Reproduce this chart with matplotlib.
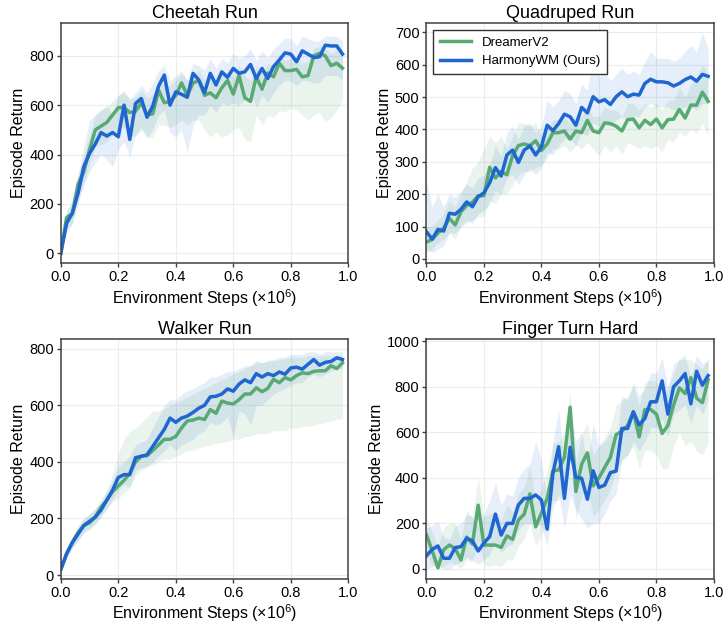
import matplotlib
matplotlib.use('Agg')
import matplotlib.pyplot as plt
import numpy as np

matplotlib.rcParams['font.family'] = ['Liberation Sans', 'DejaVu Sans']
matplotlib.rcParams['mathtext.fontset'] = 'custom'
matplotlib.rcParams['mathtext.rm'] = 'Liberation Sans'
matplotlib.rcParams['mathtext.it'] = 'Liberation Sans:italic'
matplotlib.rcParams['xtick.labelsize'] = 10.5
matplotlib.rcParams['ytick.labelsize'] = 10.5

steps = [i * 0.02 for i in range(50)]

# Cheetah Run
cb_mean = [0, 121, 162, 243, 351, 405, 443, 489, 475, 489, 472, 600, 461, 607, 627, 551, 597, 677, 722, 600,
           654, 644, 632, 729, 702, 650, 729, 682, 735, 713, 749, 729, 735, 765, 708, 749, 708, 756, 783, 812,
           807, 776, 820, 807, 793, 796, 843, 840, 840, 807]
cb_lo = [0, 80, 120, 200, 280, 330, 370, 400, 380, 350, 420, 450, 390, 480, 510, 470, 500, 560, 580, 490,
         470, 500, 410, 520, 560, 560, 600, 570, 610, 600, 610, 600, 620, 650, 590, 640, 610, 650, 680, 700,
         700, 680, 700, 700, 690, 690, 720, 720, 720, 700]
cb_hi = [0, 160, 220, 320, 430, 540, 560, 580, 600, 560, 640, 660, 620, 650, 680, 650, 690, 740, 760, 700,
         720, 740, 700, 770, 760, 740, 790, 750, 790, 770, 810, 790, 800, 830, 780, 820, 790, 830, 850, 870,
         870, 840, 880, 870, 860, 860, 880, 880, 880, 860]
cg_mean = [0, 145, 160, 280, 330, 420, 500, 515, 530, 560, 590, 590, 570, 575, 610, 560, 565, 660, 610, 615,
           640, 690, 640, 690, 700, 640, 650, 630, 670, 700, 645, 720, 630, 615, 715, 665, 730, 715, 770, 740,
           740, 745, 715, 720, 800, 810, 800, 760, 770, 750]
cg_lo = [0, 100, 120, 220, 280, 360, 430, 440, 450, 480, 500, 510, 480, 470, 500, 470, 470, 520, 520, 510,
         520, 540, 520, 540, 540, 500, 470, 490, 470, 480, 500, 510, 460, 450, 560, 520, 560, 550, 580, 570,
         590, 580, 560, 540, 560, 570, 530, 550, 580, 620]
cg_hi = [0, 180, 200, 320, 390, 480, 560, 580, 590, 620, 640, 650, 630, 630, 660, 630, 640, 700, 680, 680,
         700, 730, 700, 720, 740, 700, 720, 700, 720, 740, 710, 760, 720, 700, 760, 730, 770, 760, 800, 780,
         790, 790, 770, 780, 830, 840, 830, 810, 820, 810]

# Quadruped Run
qb_mean = [84, 61, 91, 86, 141, 138, 153, 176, 161, 192, 204, 235, 282, 256, 321, 336, 298, 336, 349, 321,
           346, 413, 396, 418, 447, 439, 413, 468, 451, 501, 485, 492, 477, 501, 516, 501, 509, 506, 542, 555,
           547, 547, 544, 534, 542, 554, 562, 549, 570, 564]
qb_lo = [30, 20, 30, 40, 80, 80, 100, 120, 110, 140, 150, 170, 210, 200, 250, 260, 230, 260, 280, 260,
         280, 330, 320, 350, 370, 370, 350, 390, 380, 420, 410, 420, 410, 430, 440, 430, 440, 440, 470, 480,
         470, 470, 470, 460, 460, 470, 470, 460, 480, 480]
qb_hi = [240, 160, 200, 160, 200, 190, 210, 230, 220, 250, 260, 290, 350, 320, 390, 410, 370, 410, 420, 390,
         410, 490, 470, 490, 520, 510, 480, 540, 520, 640, 560, 580, 550, 570, 590, 570, 580, 570, 610, 640,
         620, 620, 620, 610, 620, 640, 660, 640, 700, 650]
qg_mean = [52, 60, 80, 95, 125, 105, 145, 165, 175, 195, 195, 283, 250, 270, 260, 320, 350, 355, 350, 365,
           335, 355, 390, 390, 395, 370, 395, 390, 428, 395, 390, 420, 418, 410, 395, 430, 432, 405, 428, 415,
           432, 405, 430, 432, 462, 435, 475, 475, 515, 487]
qg_lo = [20, 30, 50, 60, 80, 60, 100, 110, 120, 130, 130, 180, 170, 200, 200, 230, 260, 270, 270, 280,
         290, 310, 340, 340, 350, 330, 350, 340, 360, 340, 320, 350, 330, 350, 320, 360, 350, 340, 350, 340,
         350, 330, 370, 360, 390, 380, 400, 390, 420, 380]
qg_hi = [100, 100, 120, 140, 180, 160, 200, 240, 280, 300, 340, 380, 360, 380, 340, 380, 420, 420, 410, 420,
         380, 400, 430, 430, 440, 420, 440, 440, 470, 440, 440, 470, 460, 460, 440, 480, 480, 460, 480, 470,
         480, 460, 490, 490, 530, 500, 540, 560, 600, 570]

# Walker Run
wb_mean = [20, 75, 115, 145, 175, 190, 205, 230, 265, 300, 345, 355, 355, 415, 420, 425, 455, 485, 515, 555,
           540, 555, 562, 575, 590, 600, 630, 632, 640, 658, 650, 675, 690, 680, 712, 700, 712, 705, 718, 710,
           732, 735, 728, 745, 762, 742, 752, 755, 768, 762]
wb_lo = [10, 60, 95, 120, 150, 165, 180, 205, 235, 265, 300, 320, 310, 370, 380, 385, 400, 420, 440, 460,
         440, 460, 470, 480, 500, 510, 540, 530, 540, 560, 490, 580, 570, 530, 600, 600, 620, 640, 650, 660,
         670, 680, 680, 700, 710, 700, 710, 720, 730, 730]
wb_hi = [30, 90, 135, 170, 200, 215, 235, 255, 295, 335, 385, 400, 420, 460, 470, 480, 520, 560, 600, 620,
         620, 640, 650, 660, 670, 680, 700, 700, 710, 720, 720, 730, 740, 740, 760, 750, 760, 760, 770, 770,
         780, 780, 780, 790, 790, 780, 790, 790, 790, 790]
wg_mean = [20, 75, 115, 150, 175, 185, 205, 240, 265, 295, 315, 335, 360, 400, 420, 422, 440, 460, 480, 480,
           490, 520, 545, 548, 555, 550, 585, 572, 615, 608, 605, 620, 640, 640, 662, 648, 660, 692, 680, 698,
           690, 705, 715, 712, 720, 722, 722, 740, 730, 750]
wg_lo = [10, 60, 95, 125, 150, 160, 180, 210, 235, 260, 270, 290, 310, 350, 370, 380, 390, 400, 410, 410,
         420, 430, 440, 440, 450, 455, 460, 465, 470, 470, 480, 480, 490, 490, 500, 500, 500, 510, 510, 510,
         520, 520, 525, 525, 530, 535, 540, 545, 550, 555]
wg_hi = [30, 90, 135, 175, 200, 215, 235, 270, 300, 360, 430, 480, 510, 520, 540, 560, 580, 580, 590, 600,
         610, 620, 630, 640, 650, 660, 670, 680, 690, 700, 710, 720, 730, 740, 750, 750, 755, 760, 760, 765,
         770, 770, 770, 775, 775, 775, 775, 775, 775, 775]

# Finger Turn Hard
fb_mean = [58, 86, 101, 47, 47, 94, 98, 135, 123, 79, 114, 142, 241, 149, 200, 200, 281, 310, 310, 325,
           303, 175, 420, 537, 310, 534, 402, 398, 306, 431, 358, 368, 423, 430, 617, 617, 690, 632, 661, 734,
           734, 826, 680, 800, 826, 858, 725, 868, 807, 849]
fb_lo = [0, 10, 20, 0, 0, 20, 30, 50, 40, 20, 40, 60, 120, 70, 100, 110, 170, 200, 200, 200,
         190, 100, 270, 330, 180, 320, 260, 220, 180, 200, 200, 240, 300, 330, 480, 500, 560, 520, 560, 620,
         620, 660, 580, 680, 700, 720, 640, 720, 680, 740]
fb_hi = [180, 190, 210, 140, 130, 190, 200, 240, 230, 190, 240, 300, 380, 280, 330, 320, 400, 440, 460, 560,
         480, 300, 560, 700, 460, 700, 560, 600, 460, 640, 540, 560, 600, 560, 760, 740, 820, 760, 790, 860,
         860, 930, 800, 900, 920, 940, 840, 940, 900, 920]
fg_mean = [150, 80, 5, 85, 105, 90, 40, 140, 110, 280, 105, 105, 105, 95, 145, 130, 215, 240, 330, 185,
           245, 310, 430, 435, 490, 710, 340, 460, 510, 365, 400, 445, 490, 590, 605, 630, 690, 580, 700, 700,
           680, 595, 630, 720, 795, 770, 840, 750, 730, 830]
fg_lo = [60, 20, 0, 10, 30, 20, 0, 40, 30, 120, 20, 10, 20, 10, 40, 40, 100, 130, 200, 100,
         150, 200, 300, 300, 360, 520, 220, 320, 360, 230, 260, 300, 350, 440, 470, 500, 540, 440, 520, 520,
         500, 440, 440, 540, 600, 540, 560, 520, 500, 550]
fg_hi = [230, 160, 100, 180, 200, 200, 130, 260, 230, 400, 230, 240, 250, 210, 280, 250, 330, 360, 450, 300,
         350, 430, 550, 560, 600, 780, 470, 590, 640, 500, 540, 580, 620, 720, 740, 760, 800, 720, 820, 830,
         820, 760, 790, 860, 920, 920, 920, 900, 880, 920]

green = '#58aa72'
blue = '#1f66d1'

panels = [
    ('Cheetah Run', cg_mean, cg_lo, cg_hi, cb_mean, cb_lo, cb_hi, (-40, 932), [0, 200, 400, 600, 800]),
    ('Quadruped Run', qg_mean, qg_lo, qg_hi, qb_mean, qb_lo, qb_hi, (-13, 728), [0, 100, 200, 300, 400, 500, 600, 700]),
    ('Walker Run', wg_mean, wg_lo, wg_hi, wb_mean, wb_lo, wb_hi, (-14, 834), [0, 200, 400, 600, 800]),
    ('Finger Turn Hard', fg_mean, fg_lo, fg_hi, fb_mean, fb_lo, fb_hi, (-44, 1009), [0, 200, 400, 600, 800, 1000]),
]

fig, axes = plt.subplots(2, 2, figsize=(7.24, 6.28), dpi=100)
plt.subplots_adjust(left=0.084, right=0.986, top=0.963, bottom=0.078, wspace=0.272, hspace=0.317)

for ax, (title, gm, gl, gh, bm, bl, bh, ylim, yticks) in zip(axes.flat, panels):
    ax.fill_between(steps, gl, gh, color=green, alpha=0.12, linewidth=0)
    ax.fill_between(steps, bl, bh, color=blue, alpha=0.11, linewidth=0)
    ax.plot(steps, gm, color=green, linewidth=2.5, label='DreamerV2')
    ax.plot(steps, bm, color=blue, linewidth=2.5, label='HarmonyWM (Ours)')
    ax.set_title(title, fontsize=13, pad=4)
    ax.set_xlabel('Environment Steps (×10$^6$)', fontsize=11.5, labelpad=2)
    ax.set_ylabel('Episode Return', fontsize=11.5, labelpad=2)
    ax.set_xlim(0, 1.0)
    ax.set_ylim(*ylim)
    ax.set_yticks(yticks)
    ax.set_xticks([0.0, 0.2, 0.4, 0.6, 0.8, 1.0])
    ax.grid(True, color='#ececec', linewidth=0.8)
    ax.set_axisbelow(True)
    for s in ax.spines.values():
        s.set_color('#404040')
        s.set_linewidth(1.1)
    ax.tick_params(length=3, width=1, color='#404040', pad=2)

leg = axes[0, 1].legend(loc='upper left', fontsize=9.5, fancybox=False, framealpha=1,
                        edgecolor='#333333', borderpad=0.5, handlelength=2.4)
leg.get_frame().set_linewidth(1.0)

plt.savefig('out.png', dpi=100)
